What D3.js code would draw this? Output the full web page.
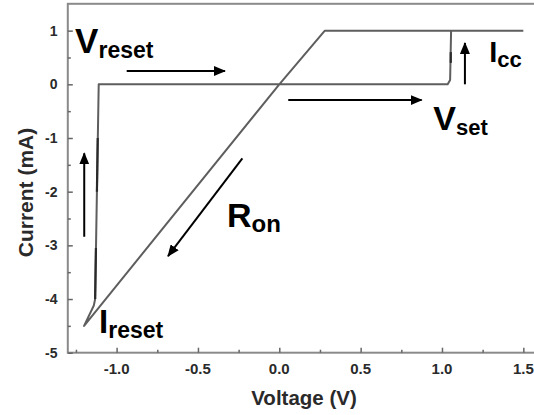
<!DOCTYPE html>
<html>
<head>
<meta charset="utf-8">
<script src="https://cdn.jsdelivr.net/npm/d3@7"></script>
<style>
  html, body { margin: 0; padding: 0; background: #fff; }
  svg { display: block; font-family: "Liberation Sans", Arial, sans-serif; }
</style>
</head>
<body>
<svg id="chart" width="534" height="415"></svg>
<script>
// I-V switching loop (voltage in V, current in mA)
const loopVoltage = [1.5, 0.28, 0.0, -1.2, -1.14, -1.132, -1.11, 1.035, 1.05, 1.056];
const loopCurrent = [1.0, 1.0, 0.0, -4.5, -4.12, -4.0, 0.0, 0.0, 0.08, 1.0];

// repeated sweeps that retrace parts of the loop
const retraceVoltage = [[-1.116, -1.121], [-1.127, -1.132], [1.054, 1.054]];
const retraceCurrent = [[-1.0, -2.0], [-3.05, -4.0], [0.4, 0.6]];

// axis ticks
const xMajorTicks = [-1.0, -0.5, 0.0, 0.5, 1.0, 1.5];
const xMinorTicks = [-1.25, -0.75, -0.25, 0.25, 0.75, 1.25];
const yMajorTicks = [-5, -4, -3, -2, -1, 0, 1];
const yMinorTicks = [-4.5, -3.5, -2.5, -1.5, -0.5, 0.5];

// annotation arrows: [fromV, fromI, toV, toI]
const arrows = [
  [-0.938, 0.248, -0.334, 0.248],   // reset sweep direction
  [0.055, -0.293, 0.875, -0.293],   // set sweep direction
  [1.141, 0.0, 1.141, 0.77],        // compliance current
  [-1.199, -2.84, -1.199, -1.286],  // reset jump
  [-0.227, -1.379, -0.684, -3.2]    // on-state branch
];

// annotation labels: main letter, subscript, anchor (V, mA)
const labelMain = ["V", "I", "V", "R", "I"];
const labelSub = ["reset", "cc", "set", "on", "reset"];
const labelV = [-1.255, 1.29, 0.947, -0.322, -1.108];
const labelI = [0.578, 0.41, -0.852, -2.664, -4.64];
const labelSize = [35, 29, 34, 34, 33];
const subSize = [23, 22, 22, 24, 23];

const svg = d3.select("#chart");
const x = d3.scaleLinear().domain([-1.3, 1.6]).range([67.8, 539.6]);
const y = d3.scaleLinear().domain([-5, 1.5]).range([352.7, 3.8]);

const axisColor = "#8a8a8a";

// plot frame
svg.append("rect")
  .attr("x", x(-1.3)).attr("y", y(1.5))
  .attr("width", x(1.6) - x(-1.3)).attr("height", y(-5) - y(1.5))
  .attr("fill", "none").attr("stroke", axisColor).attr("stroke-width", 2);

// x axis ticks (inward)
const xAxisMajor = d3.axisTop(x).tickValues(xMajorTicks).tickSize(5).tickFormat("");
const xAxisMinor = d3.axisTop(x).tickValues(xMinorTicks).tickSize(3).tickFormat("");
[xAxisMajor, xAxisMinor].forEach(ax => {
  const g = svg.append("g").attr("transform", `translate(0,${y(-5)})`).call(ax);
  g.select(".domain").remove();
  g.selectAll("line").attr("stroke", "#666").attr("stroke-width", 1.5);
});
// y axis ticks (inward)
const yAxisMajor = d3.axisRight(y).tickValues(yMajorTicks).tickSize(5).tickFormat("");
const yAxisMinor = d3.axisRight(y).tickValues(yMinorTicks).tickSize(3).tickFormat("");
[yAxisMajor, yAxisMinor].forEach(ax => {
  const g = svg.append("g").attr("transform", `translate(${x(-1.3)},0)`).call(ax);
  g.select(".domain").remove();
  g.selectAll("line").attr("stroke", "#666").attr("stroke-width", 1.5);
});

// tick labels
svg.append("g").selectAll("text").data(xMajorTicks).join("text")
  .attr("x", d => x(d)).attr("y", 373.5)
  .attr("text-anchor", "middle")
  .attr("font-size", 15).attr("font-weight", "bold").attr("fill", "#2a2a2a")
  .text(d => d3.format(".1f")(d).replace("−", "-"));
svg.append("g").selectAll("text").data(yMajorTicks).join("text")
  .attr("x", 57.5).attr("y", d => y(d) + 5)
  .attr("text-anchor", "end")
  .attr("font-size", 14).attr("font-weight", "bold").attr("fill", "#2a2a2a")
  .text(d => String(d));

// axis titles
svg.append("text")
  .attr("x", 304).attr("y", 405)
  .attr("text-anchor", "middle")
  .attr("font-size", 20.5).attr("font-weight", "bold").attr("fill", "#2a2a2a")
  .text("Voltage (V)");
svg.append("text")
  .attr("transform", `translate(32.5,192.5) rotate(-90)`)
  .attr("text-anchor", "middle")
  .attr("font-size", 21).attr("font-weight", "bold").attr("fill", "#2a2a2a")
  .text("Current (mA)");

// I-V loop
const line = d3.line().x(d => x(d[0])).y(d => y(d[1]));
svg.append("path")
  .datum(loopVoltage.map((v, i) => [v, loopCurrent[i]]))
  .attr("d", line)
  .attr("fill", "none").attr("stroke", "#5e5e5e").attr("stroke-width", 2)
  .attr("stroke-linejoin", "round");
retraceVoltage.forEach((vs, k) => {
  svg.append("path")
    .datum(vs.map((v, i) => [v, retraceCurrent[k][i]]))
    .attr("d", line)
    .attr("fill", "none").attr("stroke", "#2a2a2a").attr("stroke-width", 2.2);
});

// arrowhead marker
svg.append("defs").append("marker")
  .attr("id", "head")
  .attr("markerUnits", "userSpaceOnUse")
  .attr("markerWidth", 12).attr("markerHeight", 10)
  .attr("refX", 11).attr("refY", 5)
  .attr("orient", "auto")
  .append("path").attr("d", "M0,0 L12,5 L0,10 Z").attr("fill", "#000");

svg.append("g").selectAll("line").data(arrows).join("line")
  .attr("x1", d => x(d[0])).attr("y1", d => y(d[1]))
  .attr("x2", d => x(d[2])).attr("y2", d => y(d[3]))
  .attr("stroke", "#000").attr("stroke-width", 2)
  .attr("marker-end", "url(#head)");

// annotation labels with subscripts
labelMain.forEach((m, i) => {
  const t = svg.append("text")
    .attr("x", x(labelV[i])).attr("y", y(labelI[i]))
    .attr("font-weight", "bold").attr("fill", "#000");
  t.append("tspan").attr("font-size", labelSize[i]).text(m);
  t.append("tspan").attr("font-size", subSize[i]).attr("dy", 5).text(labelSub[i]);
});
</script>
</body>
</html>
